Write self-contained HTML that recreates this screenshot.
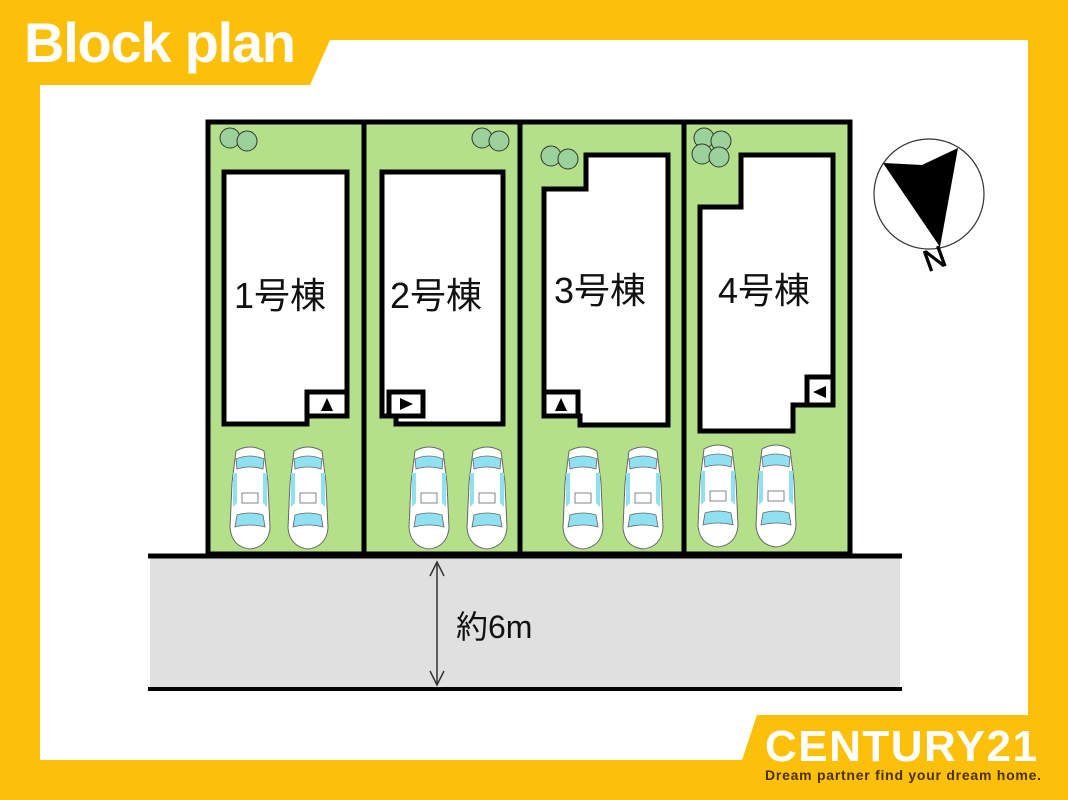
<!DOCTYPE html>
<html><head><meta charset="utf-8"><style>
html,body{margin:0;padding:0;background:#FDC00A;}
svg{display:block;}
</style></head><body>
<svg width="1068" height="800" viewBox="0 0 1068 800" xmlns="http://www.w3.org/2000/svg">
<defs>
<g id="car">
  <path d="M6,8 Q20,0 34,8 L38,40 L40,85 Q38,104 20,106 Q2,104 0,85 L2,40 Z" fill="#fff" stroke="#666" stroke-width="1"/>
  <path d="M6,16 Q20,10 34,16 L33,26 Q20,22 7,26 Z" fill="#8fe0f0" stroke="#666" stroke-width="0.8"/>
  <path d="M3,30 L7,30 L7,60 L3,64 Z" fill="#8fe0f0"/>
  <path d="M37,30 L33,30 L33,60 L37,64 Z" fill="#8fe0f0"/>
  <path d="M7,72 Q20,68 33,72 L35,84 Q20,80 5,84 Z" fill="#8fe0f0" stroke="#666" stroke-width="0.8"/>
  <rect x="12" y="50" width="16" height="10" fill="#fff" stroke="#666" stroke-width="0.8"/>
</g>
<g id="tree" fill="#9bd29b" stroke="#333" stroke-width="1">
  <circle cx="0" cy="0" r="10"/><circle cx="17" cy="3" r="10"/>
</g>
</defs>
<rect width="1068" height="800" fill="#FDC00A"/>
<polygon points="330,40 1028,40 1028,715 757,715 742,760 40,760 40,85 310,85" fill="#fff"/>
<text x="24" y="62" font-family="Liberation Sans, sans-serif" font-weight="bold" font-size="56" fill="#fff" textLength="272">Block plan</text>

<rect x="208" y="122" width="642" height="432" fill="#B5E08A" stroke="#000" stroke-width="5"/>
<line x1="364" y1="122" x2="364" y2="554" stroke="#000" stroke-width="5"/>
<line x1="520" y1="122" x2="520" y2="554" stroke="#000" stroke-width="5"/>
<line x1="684" y1="122" x2="684" y2="554" stroke="#000" stroke-width="5"/>

<use href="#tree" x="230" y="138"/>
<use href="#tree" x="482" y="138"/>
<use href="#tree" x="551" y="156"/>
<use href="#tree" x="704" y="138"/><use href="#tree" x="702" y="154"/>

<g fill="#fff" stroke="#000" stroke-width="5">
  <polygon points="224,172 347,172 347,416 307,416 307,424 224,424"/>
  <rect x="307" y="392" width="40" height="24"/>
  <polygon points="382,172 503,172 503,424 396,424 396,416 382,416"/>
  <rect x="389" y="392" width="34" height="24"/>
  <polygon points="586,155 668,155 668,425 580,425 580,416 544,416 544,189 586,189"/>
  <rect x="544" y="392" width="34" height="24"/>
  <polygon points="741,155 833,155 833,405 793,405 793,431 700,431 700,207 741,207"/>
  <rect x="807" y="377" width="26" height="28"/>
</g>
<g fill="#000">
  <polygon points="327,398 321,411 333,411"/>
  <polygon points="400,398 413,404 400,410"/>
  <polygon points="561,398 555,411 567,411"/>
  <polygon points="826,386 813,392 826,398"/>
</g>
<g font-family="Liberation Sans, 'Noto Sans CJK JP', sans-serif" font-size="36" fill="#111">
  <text x="234" y="308">1号棟</text>
  <text x="390" y="308">2号棟</text>
  <text x="554" y="303">3号棟</text>
  <text x="718" y="303">4号棟</text>
</g>

<use href="#car" x="230" y="443"/><use href="#car" x="288" y="443"/>
<use href="#car" x="409" y="443"/><use href="#car" x="467" y="443"/>
<use href="#car" x="563" y="443"/><use href="#car" x="623" y="443"/>
<use href="#car" x="698" y="441"/><use href="#car" x="756" y="441"/>

<rect x="150" y="558" width="750" height="130" fill="#E0E0E0"/>
<line x1="148" y1="556" x2="902" y2="556" stroke="#000" stroke-width="5"/>
<line x1="148" y1="689" x2="902" y2="689" stroke="#000" stroke-width="4"/>
<g stroke="#333" stroke-width="1.5" fill="none">
  <line x1="437" y1="562" x2="437" y2="685"/>
  <polyline points="430,576 437,562 444,576"/>
  <polyline points="430,671 437,685 444,671"/>
</g>
<text x="456" y="638" font-family="Liberation Sans, 'Noto Sans CJK JP', sans-serif" font-size="32" fill="#111">約6m</text>

<circle cx="929" cy="194" r="55" fill="#fff" stroke="#333" stroke-width="1.2"/>
<polygon points="883,163 922,165 958,148 940,247" fill="#000"/>
<text x="0" y="0" font-family="Liberation Sans, sans-serif" font-size="30" fill="#000" stroke="#000" stroke-width="0.8" transform="translate(928,272) rotate(-20)">N</text>

<text x="765" y="761" font-family="Liberation Sans, sans-serif" font-weight="bold" font-size="44" fill="#fff" textLength="272">CENTURY21</text>
<text x="765" y="780" font-family="Liberation Sans, sans-serif" font-weight="bold" font-size="14" fill="#4a3000" textLength="276">Dream partner find your dream home.</text>
</svg>
</body></html>
